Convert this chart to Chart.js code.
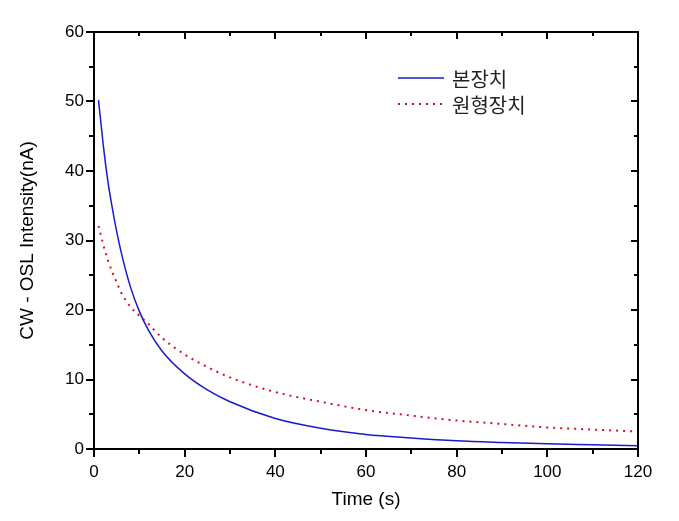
<!DOCTYPE html>
<html>
<head>
<meta charset="utf-8">
<script src="https://cdn.jsdelivr.net/npm/chart.js@4.4.0/dist/chart.umd.min.js"></script>
<style>
  html, body { margin: 0; padding: 0; background: #fff; }
  #wrap { width: 679px; height: 521px; }
</style>
</head>
<body>
<div id="wrap"><canvas id="oslChart" width="679" height="521"></canvas></div>
<script>
// time (s) sample points
const times = [1, 2, 3, 4, 5, 6, 8, 10, 12, 15, 20, 25, 30, 40, 50, 60, 70, 80, 90, 100, 110, 120];
// 본장치 (blue, solid)
const newDevice = [50.2, 44, 38.8, 34.8, 31.3, 28.3, 23.4, 19.8, 17.1, 14.1, 10.8, 8.5, 6.8, 4.4, 3.0, 2.1, 1.6, 1.2, 0.95, 0.75, 0.6, 0.45];
// 원형장치 (red, dotted)
const protoDevice = [32.1, 29.5, 27.3, 25.5, 24, 22.5, 20.5, 19.2, 18, 16, 13.6, 11.8, 10.3, 8.2, 6.8, 5.6, 4.8, 4.1, 3.6, 3.1, 2.8, 2.5];
const seriesLabels = ["본장치", "원형장치"];
const xTitle = "Time (s)";
const yTitle = "CW - OSL Intensity(nA)";

const toPoints = (ys) => times.map((t, i) => ({ x: t, y: ys[i] }));

const tickFont = { family: "'Liberation Sans', Arial, sans-serif", size: 17 };
const titleFont = { family: "'Liberation Sans', Arial, sans-serif", size: 19 };

// draws frame, outward ticks (left/bottom) and inward ticks (top/right), plus legend
const framePlugin = {
  id: "frame",
  afterDraw(chart) {
    const { ctx, chartArea: a, scales } = chart;
    const xs = scales.x, ys = scales.y;
    ctx.save();
    ctx.strokeStyle = "#000";
    ctx.lineWidth = 2;
    ctx.strokeRect(a.left, a.top, a.right - a.left, a.bottom - a.top);
    ctx.beginPath();
    xs.ticks.forEach((t) => {
      const px = Math.round(xs.getPixelForValue(t.value));
      const major = t.value % 20 === 0;
      const len = major ? 8 : 5;
      ctx.moveTo(px, a.bottom); ctx.lineTo(px, a.bottom + len);
      if (t.value > 0 && t.value < 120) {
        ctx.moveTo(px, a.top); ctx.lineTo(px, a.top + len - 1);
      }
    });
    ys.ticks.forEach((t) => {
      const py = Math.round(ys.getPixelForValue(t.value));
      const major = t.value % 10 === 0;
      const len = major ? 8 : 5;
      ctx.moveTo(a.left, py); ctx.lineTo(a.left - len, py);
      if (t.value > 0 && t.value < 60) {
        ctx.moveTo(a.right, py); ctx.lineTo(a.right - len + 1, py);
      }
    });
    ctx.stroke();

    // legend inside plot
    const lx = a.left + 304, ly = a.top + 46;
    chart.data.datasets.forEach((ds, i) => {
      const y = ly + i * 26;
      ctx.beginPath();
      ctx.strokeStyle = ds.borderColor;
      ctx.lineWidth = ds.borderWidth;
      ctx.setLineDash(ds.borderDash || []);
      ctx.moveTo(lx, y); ctx.lineTo(lx + 46, y);
      ctx.stroke();
      ctx.setLineDash([]);
      ctx.fillStyle = "#222";
      ctx.font = "20px 'Noto Sans CJK KR', sans-serif";
      ctx.textBaseline = "middle";
      ctx.fillText(ds.label, lx + 54, y + 1);
    });
    ctx.restore();
  },
};

new Chart(document.getElementById("oslChart"), {
  type: "line",
  data: {
    datasets: [
      {
        label: seriesLabels[0],
        data: toPoints(newDevice),
        borderColor: "#1a1acc",
        borderWidth: 1.5,
        pointRadius: 0,
        cubicInterpolationMode: "monotone",
        fill: false,
      },
      {
        label: seriesLabels[1],
        data: toPoints(protoDevice),
        borderColor: "#d0101e",
        borderWidth: 2,
        borderDash: [2, 5],
        pointRadius: 0,
        cubicInterpolationMode: "monotone",
        fill: false,
      },
    ],
  },
  options: {
    responsive: false,
    animation: false,
    layout: { padding: { left: 0, top: 32, right: 41, bottom: 0 } },
    plugins: { legend: { display: false }, tooltip: { enabled: false } },
    scales: {
      x: {
        type: "linear",
        min: 0,
        max: 120,
        grid: { display: true, color: "transparent", drawOnChartArea: false, tickLength: 8, tickColor: "transparent" },
        border: { display: false },
        ticks: {
          stepSize: 10,
          padding: 5,
          color: "#000",
          font: tickFont,
          maxRotation: 0,
          autoSkip: false,
          callback: (v) => (v % 20 === 0 ? v : ""),
        },
        title: { display: true, text: xTitle, color: "#000", font: titleFont, padding: { top: 0, bottom: 10 } },
        afterFit: (s) => { s.height = 72; },
      },
      y: {
        min: 0,
        max: 60,
        grid: { display: true, color: "transparent", drawOnChartArea: false, tickLength: 8, tickColor: "transparent" },
        border: { display: false },
        ticks: {
          stepSize: 5,
          padding: 2,
          color: "#000",
          font: tickFont,
          autoSkip: false,
          callback: (v) => (v % 10 === 0 ? v : ""),
        },
        title: { display: true, text: yTitle, color: "#000", font: titleFont, padding: { top: 16, bottom: 0 } },
        afterFit: (s) => { s.width = 94; },
      },
    },
  },
  plugins: [framePlugin],
});
</script>
</body>
</html>
